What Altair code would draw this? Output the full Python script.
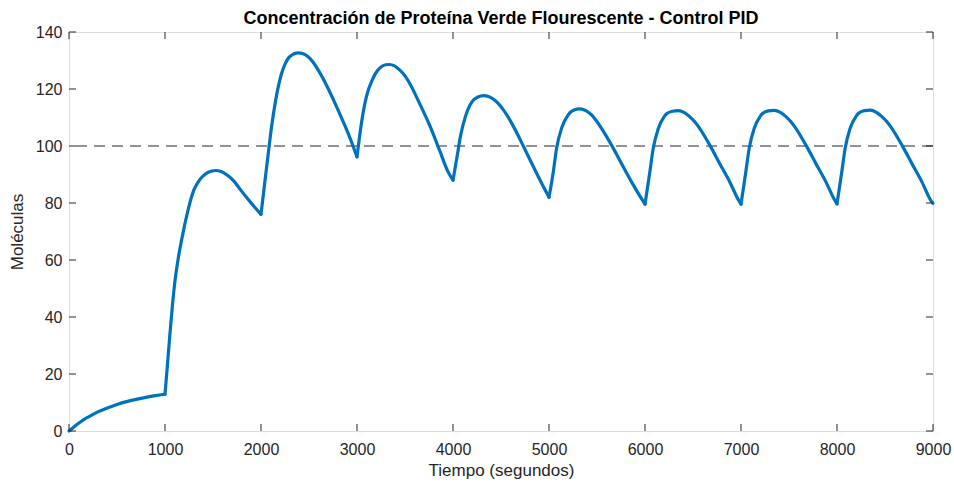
import altair as alt
import pandas as pd

# Simulated GFP concentration under PID control (time in s, molecules)
tiempo = [
    0, 50, 100, 150, 200, 300, 400, 500, 600, 700, 800, 900, 1000,
    1024, 1052, 1076, 1101, 1135, 1180, 1232, 1301, 1350, 1388, 1450, 1527, 1590, 1647, 1720, 1787, 1890, 2000,
    2042, 2076, 2111, 2153, 2215, 2250, 2284, 2340, 2388, 2440, 2491, 2545, 2595, 2699, 2803, 2907, 3000,
    3046, 3098, 3166, 3210, 3254, 3300, 3340, 3390, 3444, 3500, 3548, 3651, 3755, 3859, 3945, 4000,
    4042, 4077, 4129, 4197, 4260, 4319, 4370, 4423, 4475, 4527, 4631, 4735, 4838, 4942, 5000,
    5045, 5079, 5131, 5200, 5260, 5322, 5385, 5443, 5495, 5547, 5650, 5754, 5858, 5962, 6000,
    6050, 6085, 6137, 6200, 6225, 6285, 6347, 6410, 6468, 6520, 6571, 6675, 6779, 6883, 6981, 7000,
    7050, 7085, 7137, 7200, 7225, 7285, 7347, 7410, 7468, 7520, 7571, 7675, 7779, 7883, 7981, 8000,
    8050, 8085, 8137, 8200, 8225, 8285, 8347, 8410, 8468, 8520, 8571, 8675, 8779, 8883, 8981, 9000,
]
moleculas = [
    0.0, 1.4, 2.7, 3.9, 4.9, 6.7, 8.1, 9.3, 10.3, 11.1, 11.8, 12.4, 12.9,
    22.6, 34.3, 43.6, 51.8, 60.0, 68.2, 76.4, 84.6, 87.6, 89.2, 90.8, 91.4, 91.0, 89.8, 87.6, 84.6, 80.3, 76.0,
    88.0, 97.5, 107.0, 116.1, 125.5, 128.7, 130.8, 132.3, 132.7, 132.4, 131.3, 129.3, 126.7, 120.2, 112.6, 104.5, 96.2,
    108.0, 117.3, 123.7, 126.3, 127.8, 128.5, 128.6, 128.1, 126.7, 124.6, 122.0, 115.0, 107.4, 98.6, 91.2, 88.0,
    96.2, 103.3, 110.3, 115.5, 117.2, 117.7, 117.4, 116.4, 114.8, 112.6, 106.8, 99.8, 92.7, 85.7, 82.0,
    91.0, 99.2, 106.2, 110.9, 112.6, 113.0, 112.4, 110.9, 108.8, 106.2, 100.4, 93.9, 87.5, 81.6, 79.6,
    90.8, 99.0, 106.0, 110.3, 111.3, 112.2, 112.4, 111.7, 110.2, 108.4, 106.1, 100.3, 93.8, 87.4, 80.6, 79.6,
    90.9, 99.1, 106.1, 110.4, 111.4, 112.3, 112.5, 111.8, 110.3, 108.5, 106.2, 100.4, 93.9, 87.5, 80.7, 79.7,
    91.0, 99.2, 106.2, 110.5, 111.5, 112.4, 112.6, 111.8, 110.3, 108.5, 106.2, 100.4, 93.9, 87.5, 80.7, 79.9,
]
# control interval boundaries (the controller acts every 1000 s)
intervalos = [0, 1000, 2000, 3000, 4000, 5000, 6000, 7000, 8000, 9000]
referencia = [100]
ticks_x = [0, 1000, 2000, 3000, 4000, 5000, 6000, 7000, 8000, 9000]
ticks_y = [0, 20, 40, 60, 80, 100, 120, 140]

W, H = 864, 399
TICK = 7
INK = "#262626"
FONT = "Liberation Sans"

# split the trajectory into one piece per control interval so each
# piece is smoothed on its own and the corners at the boundaries stay sharp
rows = []
for i in range(len(intervalos) - 1):
    a, b = intervalos[i], intervalos[i + 1]
    for t, m in zip(tiempo, moleculas):
        if a <= t <= b:
            rows.append({"t": t, "m": m, "tramo": i})
df = pd.DataFrame(rows)
ref_df = pd.DataFrame({"y": referencia})
tx = pd.DataFrame({"x": ticks_x})
ty = pd.DataFrame({"y": ticks_y})

xscale = alt.Scale(domain=[0, 9000], nice=False, zero=False)
yscale = alt.Scale(domain=[0, 140], nice=False, zero=False)

x_axis = alt.Axis(
    values=ticks_x, format="d", tickSize=0, domain=False, grid=False,
    labelFont=FONT, labelFontSize=16, labelColor=INK, labelPadding=10,
    labelFlush=False, labelOverlap=False,
    title="Tiempo (segundos)", titleFont=FONT, titleFontSize=17,
    titleFontWeight="normal", titleColor=INK, titlePadding=5,
)
y_axis = alt.Axis(
    values=ticks_y, format="d", tickSize=0, domain=False, grid=False,
    labelFont=FONT, labelFontSize=16, labelColor=INK, labelPadding=7,
    labelFlush=False, labelOverlap=False,
    title="Moléculas", titleFont=FONT, titleFontSize=17,
    titleFontWeight="normal", titleColor=INK, titlePadding=9,
)

curve = alt.Chart(df).mark_line(
    color="#0072BD", strokeWidth=3.2, strokeJoin="round", strokeCap="round",
    interpolate="monotone",
).encode(
    x=alt.X("t:Q", scale=xscale, axis=x_axis),
    y=alt.Y("m:Q", scale=yscale, axis=y_axis),
    detail="tramo:N",
    order="t:Q",
)

setpoint = alt.Chart(ref_df).mark_rule(
    color="#6f6f6f", strokeWidth=1.6, strokeDash=[11, 7]
).encode(y=alt.Y("y:Q", scale=yscale))

# inward tick marks on all four sides of the box
bottom_ticks = alt.Chart(tx).mark_rule(color=INK, strokeWidth=1).encode(
    x=alt.X("x:Q", scale=xscale), y=alt.value(H), y2=alt.value(H - TICK)
)
top_ticks = alt.Chart(tx).mark_rule(color=INK, strokeWidth=1).encode(
    x=alt.X("x:Q", scale=xscale), y=alt.value(0), y2=alt.value(TICK)
)
left_ticks = alt.Chart(ty).mark_rule(color=INK, strokeWidth=1).encode(
    y=alt.Y("y:Q", scale=yscale), x=alt.value(0), x2=alt.value(TICK)
)
right_ticks = alt.Chart(ty).mark_rule(color=INK, strokeWidth=1).encode(
    y=alt.Y("y:Q", scale=yscale), x=alt.value(W), x2=alt.value(W - TICK)
)

chart = alt.layer(
    setpoint, curve, bottom_ticks, top_ticks, left_ticks, right_ticks
).properties(
    width=W,
    height=H,
    title=alt.TitleParams(
        "Concentración de Proteína Verde Flourescente - Control PID",
        font=FONT, fontSize=18, fontWeight="bold", color="#000000",
        anchor="middle", offset=-4,
    ),
    autosize=alt.AutoSizeParams(type="none"),
    padding={"left": 69, "top": 32, "right": 21, "bottom": 51},
).configure_view(
    stroke=INK, strokeWidth=1
).configure(background="white")

chart.save("out.html", embed_options={"renderer": "svg", "actions": False})
